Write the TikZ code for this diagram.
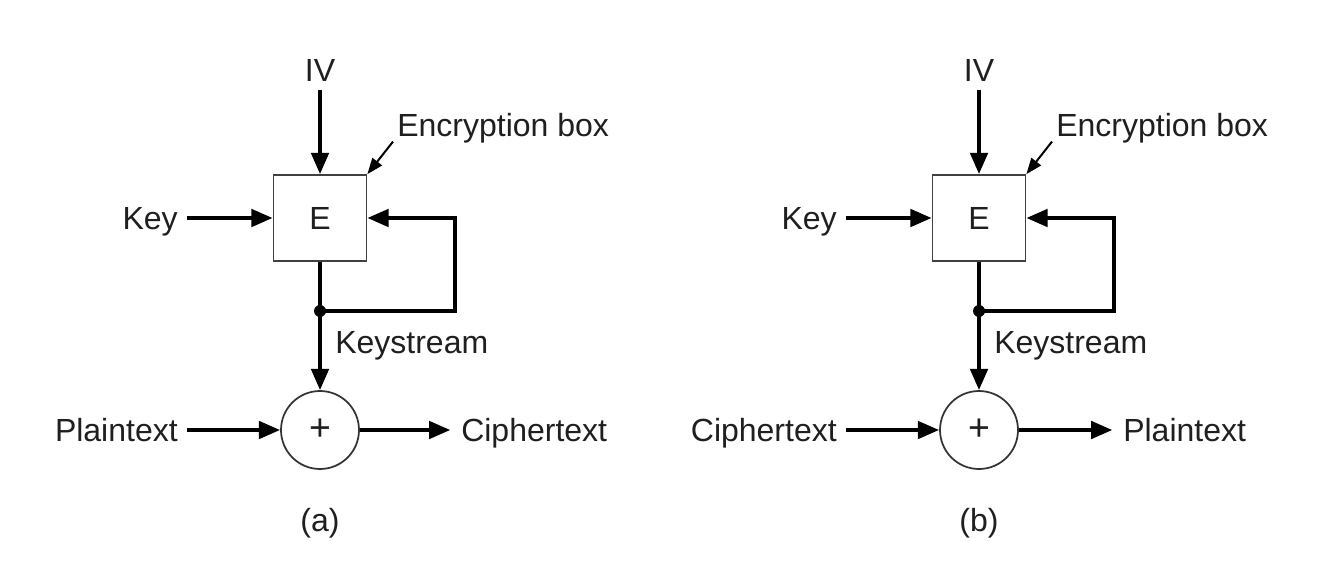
\documentclass[tikz,border=0pt]{standalone}
\usepackage{fontspec}
\setmainfont{Liberation Sans}
\usetikzlibrary{arrows.meta}
\begin{document}
\begin{tikzpicture}[x=0.75pt,y=-0.75pt,
  lbl/.style={font=\fontsize{24}{28}\selectfont, text=black!88, inner sep=0pt, text height=17pt, text depth=0pt},
  ebox/.style={draw=black!75, line width=1.3pt, minimum width=69.75pt, minimum height=64.5pt, font=\fontsize{24}{28}\selectfont, text=black!88},
  xor/.style={circle, draw=black!80, line width=1.3pt, minimum size=58.5pt, inner sep=0pt, font=\fontsize{28}{32}\selectfont, text=black!88},
  flow/.style={line width=3pt, line join=miter, -{Triangle[length=16pt,width=13pt]}},
  wire/.style={line width=3pt},
  pointer/.style={line width=1.5pt, -{Triangle[length=12pt,width=9pt]}}]
\useasboundingbox (0,0) rectangle (1327,588);
% ---------- panel (a) ----------
\node[ebox] (aE) at (320,218) {E};
\node[lbl] (aIV) at (320,70) {IV};
\node[lbl, anchor=east] (aKey) at (178,218) {Key};
\node[xor] (aX) at (320,430) {+};
\node[lbl, anchor=east] (aIn) at (178,430) {Plaintext};
\node[lbl, anchor=west] (aOut) at (461,430) {Ciphertext};
\node[lbl, anchor=west] (aKS) at (335,342) {Keystream};
\node[lbl] (aLab) at (320,520) {(a)};
\node[lbl, anchor=west] (aEB) at (397,125) {Encryption box};
\coordinate (aJ) at (320,311);
\coordinate (aC) at (455,218);
\draw[flow, shorten <=6pt] (aIV) -- (aE);
\draw[flow, shorten <=7pt] (aKey) -- (aE);
\draw[wire] (aE.south) -- (aJ);
\draw[flow] (aJ) -| (aC) -- (aE.east);
\draw[flow] (aJ) -- (aX.north);
\fill (aJ) circle (4.5pt);
\draw[flow, shorten <=7pt] (aIn) -- (aX);
\draw[flow, shorten >=8pt] (aX) -- (aOut);
\draw[pointer] ([shift={(-4,5)}]aEB.south west) -- (aE.north east);
% ---------- panel (b) ----------
\node[ebox] (bE) at (979,218) {E};
\node[lbl] (bIV) at (979,70) {IV};
\node[lbl, anchor=east] (bKey) at (837,218) {Key};
\node[xor] (bX) at (979,430) {+};
\node[lbl, anchor=east] (bIn) at (837,430) {Ciphertext};
\node[lbl, anchor=west] (bOut) at (1123,430) {Plaintext};
\node[lbl, anchor=west] (bKS) at (994,342) {Keystream};
\node[lbl] (bLab) at (979,520) {(b)};
\node[lbl, anchor=west] (bEB) at (1056,125) {Encryption box};
\coordinate (bJ) at (979,311);
\coordinate (bC) at (1114,218);
\draw[flow, shorten <=6pt] (bIV) -- (bE);
\draw[flow, shorten <=7pt] (bKey) -- (bE);
\draw[wire] (bE.south) -- (bJ);
\draw[flow] (bJ) -| (bC) -- (bE.east);
\draw[flow] (bJ) -- (bX.north);
\fill (bJ) circle (4.5pt);
\draw[flow, shorten <=7pt] (bIn) -- (bX);
\draw[flow, shorten >=8pt] (bX) -- (bOut);
\draw[pointer] ([shift={(-4,5)}]bEB.south west) -- (bE.north east);
\end{tikzpicture}
\end{document}
